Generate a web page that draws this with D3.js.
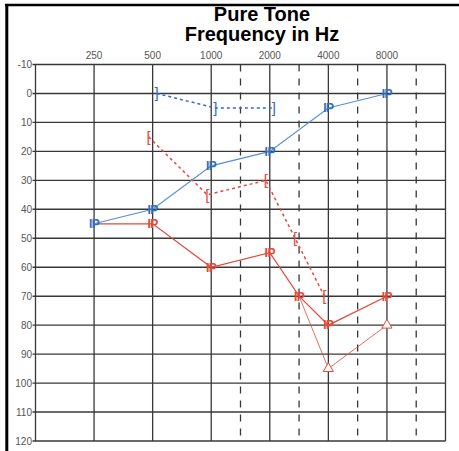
<!DOCTYPE html>
<html>
<head>
<meta charset="utf-8">
<script src="https://cdn.jsdelivr.net/npm/d3@7"></script>
<style>
  body { margin: 0; background: #fff; }
  svg { display: block; font-family: "Liberation Sans", Arial, sans-serif; }
</style>
</head>
<body>
<div id="chart"></div>
<script>
// data
const freqGrid = [125, 187, 250, 375, 500, 750, 1000, 1500, 2000, 3000, 4000, 6000, 8000, 12000, 16000];
const freqLabels = [250, 500, 1000, 2000, 4000, 8000];
const octaveLines = [125, 250, 500, 1000, 2000, 4000, 8000, 16000];
const midLines = [1500, 3000, 6000, 12000];
const dbTicks = [-10, 0, 10, 20, 30, 40, 50, 60, 70, 80, 90, 100, 110, 120];

const blueAir = [
  { f: 250, db: 45 }, { f: 500, db: 40 }, { f: 1000, db: 25 },
  { f: 2000, db: 20 }, { f: 4000, db: 5 }, { f: 8000, db: 0 }
];
const blueBone = [{ f: 500, db: 0 }, { f: 1000, db: 5 }, { f: 2000, db: 5 }];
const redBone = [
  { f: 500, db: 15 }, { f: 1000, db: 35 }, { f: 2000, db: 30 },
  { f: 3000, db: 50 }, { f: 4000, db: 70 }
];
const redAir = [
  { f: 250, db: 45 }, { f: 500, db: 45 }, { f: 1000, db: 60 }, { f: 2000, db: 55 },
  { f: 3000, db: 70 }, { f: 4000, db: 80 }, { f: 8000, db: 70 }
];
const redTri = [{ f: 3000, db: 70 }, { f: 4000, db: 95 }, { f: 8000, db: 80 }];

const width = 459, height = 451;
const blue = "#2f6fbf", red = "#e6483a", grid = "#383838";

const svg = d3.select("#chart").append("svg")
  .attr("width", width).attr("height", height);

// scales
const x = d3.scalePoint().domain(freqGrid).range([35.5, 445.5]);
const y = d3.scaleLinear().domain([-10, 120]).range([64.5, 441]);

// frame
svg.append("line").attr("x1", 5).attr("x2", width).attr("y1", 5).attr("y2", 5)
  .attr("stroke", "#000").attr("stroke-width", 2.5);
svg.append("line").attr("x1", 6.8).attr("x2", 6.8).attr("y1", 4).attr("y2", height)
  .attr("stroke", "#000").attr("stroke-width", 3);

// title
svg.append("text").attr("x", 262).attr("y", 21).attr("text-anchor", "middle")
  .style("font-size", "20px").style("font-weight", "bold").text("Pure Tone");
svg.append("text").attr("x", 262).attr("y", 41).attr("text-anchor", "middle")
  .style("font-size", "20px").style("font-weight", "bold").text("Frequency in Hz");

// grid
svg.selectAll(".hline").data(dbTicks).enter().append("line")
  .attr("x1", x(125) - 3).attr("x2", x(16000))
  .attr("y1", d => y(d)).attr("y2", d => y(d))
  .attr("stroke", grid).attr("stroke-width", 1.4);

svg.selectAll(".vline").data(octaveLines).enter().append("line")
  .attr("x1", d => x(d)).attr("x2", d => x(d))
  .attr("y1", y(-10)).attr("y2", y(120))
  .attr("stroke", grid).attr("stroke-width", 1.3);

svg.selectAll(".mline").data(midLines).enter().append("line")
  .attr("x1", d => x(d)).attr("x2", d => x(d))
  .attr("y1", y(-10)).attr("y2", y(120))
  .attr("stroke", grid).attr("stroke-width", 1.3)
  .attr("stroke-dasharray", "7,7");

// labels
svg.selectAll(".xlab").data(freqLabels).enter().append("text")
  .attr("x", d => x(d)).attr("y", 59).attr("text-anchor", "middle")
  .style("font-size", "10px").style("fill", "#555").text(d => d);

svg.selectAll(".ylab").data(dbTicks).enter().append("text")
  .attr("x", 32).attr("y", d => y(d)).attr("dy", "0.35em").attr("text-anchor", "end")
  .style("font-size", "10px").style("fill", "#555").text(d => d);

// lines
const line = dx => d3.line().x(d => x(d.f) + dx).y(d => y(d.db));

svg.append("path").datum(blueBone).attr("d", line(4)).attr("fill", "none")
  .attr("stroke", blue).attr("stroke-width", 1.5).attr("stroke-dasharray", "3,3");
svg.append("path").datum(redBone).attr("d", line(-4)).attr("fill", "none")
  .attr("stroke", red).attr("stroke-width", 1.5).attr("stroke-dasharray", "3,3");
svg.append("path").datum(redTri).attr("d", line(0)).attr("fill", "none")
  .attr("stroke", red).attr("stroke-width", 1).attr("opacity", 0.8);
svg.append("path").datum(redAir).attr("d", line(0)).attr("fill", "none")
  .attr("stroke", red).attr("stroke-width", 1.2);
svg.append("path").datum(blueAir).attr("d", line(0)).attr("fill", "none")
  .attr("stroke", "#5b8fd2").attr("stroke-width", 1.2);

// markers
svg.selectAll(".tri").data(redTri.slice(1)).enter().append("path")
  .attr("transform", d => `translate(${x(d.f)},${y(d.db)})`)
  .attr("d", d3.symbol(d3.symbolTriangle, 45))
  .attr("fill", "#fff").attr("stroke", red).attr("stroke-width", 1);

svg.selectAll(".rbr").data(redBone).enter().append("text")
  .attr("x", d => x(d.f) - 4).attr("y", d => y(d.db)).attr("dy", "0.32em")
  .attr("text-anchor", "middle").style("font-size", "15px").style("fill", red).text("[");

svg.selectAll(".bbr").data(blueBone).enter().append("text")
  .attr("x", d => x(d.f) + 4).attr("y", d => y(d.db)).attr("dy", "0.32em")
  .attr("text-anchor", "middle").style("font-size", "15px").style("fill", blue).text("]");

svg.selectAll(".rip").data(redAir.slice(1)).enter().append("text")
  .attr("x", d => x(d.f)).attr("y", d => y(d.db)).attr("dy", "0.36em")
  .attr("text-anchor", "middle").style("font-size", "12px").style("font-weight", "bold")
  .style("letter-spacing", "-0.5px").style("fill", red).text("IP");

svg.selectAll(".bip").data(blueAir).enter().append("text")
  .attr("x", d => x(d.f)).attr("y", d => y(d.db)).attr("dy", "0.36em")
  .attr("text-anchor", "middle").style("font-size", "12px").style("font-weight", "bold")
  .style("letter-spacing", "-0.5px").style("fill", blue).text("IP");
</script>
</body>
</html>
